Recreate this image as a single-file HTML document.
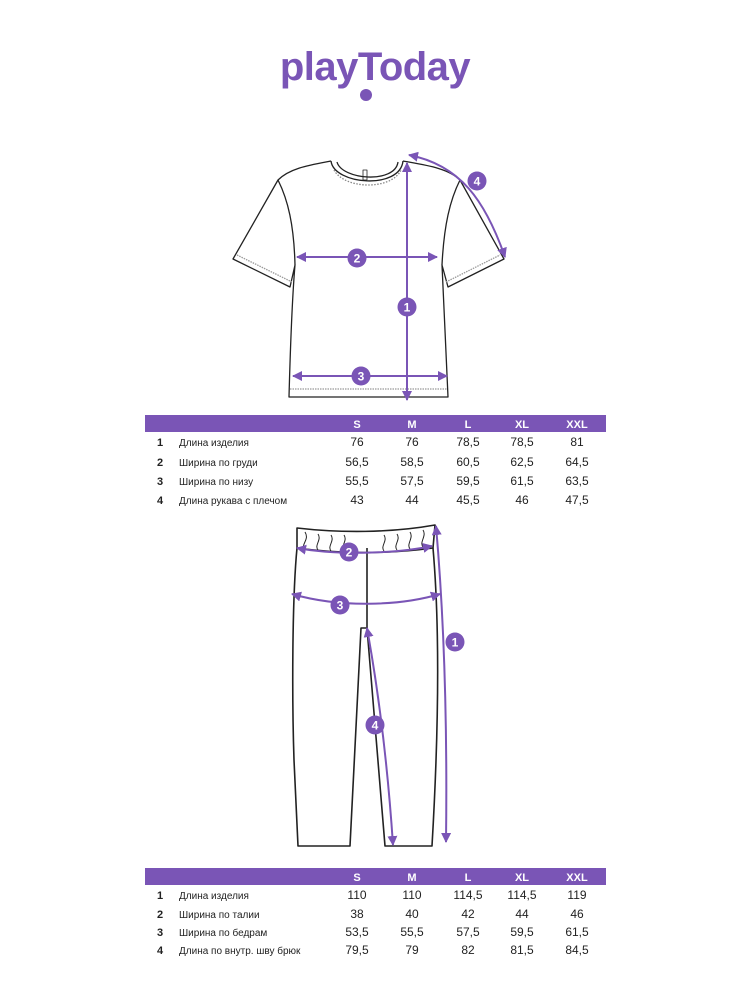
<!DOCTYPE html>
<html><head><meta charset="utf-8"><style>
html,body{margin:0;padding:0;background:#fff}
svg{display:block}
text{font-family:"Liberation Sans","DejaVu Sans",sans-serif}
</style></head><body>
<svg width="750" height="1000" viewBox="0 0 750 1000" xmlns="http://www.w3.org/2000/svg">
<rect width="750" height="1000" fill="#fff"/>
<defs>
<marker id="ah" viewBox="0 0 10 10" refX="9" refY="5" markerWidth="5" markerHeight="5" orient="auto-start-reverse"><path d="M0,0 L10,5 L0,10 z" fill="#7a55b6"/></marker>
</defs>
<!-- logo -->
<text x="375" y="80" text-anchor="middle" font-size="40" font-weight="bold" fill="#7a55b6" letter-spacing="-0.5">playToday</text>
<circle cx="366" cy="95" r="6" fill="#7a55b6"/>

<!-- T-shirt -->
<g fill="none" stroke="#222" stroke-width="1.3" stroke-linejoin="round">
<path d="M331,161 C334,185 400,190 403,161"/>
<path d="M337,162 C342,180 395,184 398,162"/>
<path d="M334,170 C345,190 392,190 401,170" stroke="#888" stroke-dasharray="1.5,1.5"/>
<path d="M331,161 C310,165 290,168 278,180 L233,259 L290,287 L295,265 C292,300 290,360 289,397 L448,397 C446,360 444,300 442,265 L448,287 L504,259 L460,180 C448,168 425,165 403,161"/>
<path d="M278,180 C288,200 294,225 295,265"/>
<path d="M460,180 C450,200 444,225 442,265"/>
<path d="M237,255 L292,282 M446,282 L500,255" stroke="#999" stroke-dasharray="1.5,1"/>
<path d="M290,389 L447,389" stroke="#999" stroke-dasharray="1.5,1"/>
<rect x="363" y="170" width="4" height="10" stroke-width="0.8"/>
</g>
<g stroke="#7a55b6" stroke-width="2" fill="none">
<line x1="407" y1="163" x2="407" y2="400" marker-start="url(#ah)" marker-end="url(#ah)"/>
<line x1="297" y1="257" x2="437" y2="257" marker-start="url(#ah)" marker-end="url(#ah)"/>
<line x1="293" y1="376" x2="447" y2="376" marker-start="url(#ah)" marker-end="url(#ah)"/>
<path d="M409,155 C460,165 485,200 505,257" marker-start="url(#ah)" marker-end="url(#ah)"/>
</g>
<g fill="#7a55b6" font-size="12" font-weight="bold" text-anchor="middle">
<circle cx="407" cy="307" r="9.5"/><text x="407" y="311.5" fill="#fff">1</text>
<circle cx="357" cy="258" r="9.5"/><text x="357" y="262.5" fill="#fff">2</text>
<circle cx="361" cy="376" r="9.5"/><text x="361" y="380.5" fill="#fff">3</text>
<circle cx="477" cy="181" r="9.5"/><text x="477" y="185.5" fill="#fff">4</text>
</g>

<!-- Table 1 -->
<rect x="145" y="415" width="461" height="17" fill="#7a55b6"/>
<g font-size="11" font-weight="bold" fill="#fff" text-anchor="middle">
<text x="357" y="428">S</text><text x="412" y="428">M</text><text x="468" y="428">L</text><text x="522" y="428">XL</text><text x="577" y="428">XXL</text>
</g>
<g font-size="10" fill="#222">
<g font-weight="bold" font-size="11"><text x="157" y="446">1</text><text x="157" y="466">2</text><text x="157" y="485">3</text><text x="157" y="504">4</text></g>
<text x="179" y="446">Длина изделия</text>
<text x="179" y="466">Ширина по груди</text>
<text x="179" y="485">Ширина по низу</text>
<text x="179" y="504">Длина рукава с плечом</text>
</g>
<g font-size="12" fill="#222" text-anchor="middle">
<text x="357" y="446">76</text><text x="412" y="446">76</text><text x="468" y="446">78,5</text><text x="522" y="446">78,5</text><text x="577" y="446">81</text>
<text x="357" y="466">56,5</text><text x="412" y="466">58,5</text><text x="468" y="466">60,5</text><text x="522" y="466">62,5</text><text x="577" y="466">64,5</text>
<text x="357" y="485">55,5</text><text x="412" y="485">57,5</text><text x="468" y="485">59,5</text><text x="522" y="485">61,5</text><text x="577" y="485">63,5</text>
<text x="357" y="504">43</text><text x="412" y="504">44</text><text x="468" y="504">45,5</text><text x="522" y="504">46</text><text x="577" y="504">47,5</text>
</g>

<!-- Pants -->
<g fill="none" stroke="#222" stroke-width="1.6" stroke-linejoin="round">
<path d="M297,528 C340,533 390,533 435,525 L433,548 C390,554 340,554 297,548 Z"/>
<path d="M297,548 C292,600 292,700 294,760 L298,846 L350,846 L361,628 L367,628 L385,846 L432,846 C437,760 441,640 433,548"/>
<path d="M367,548 L367,628"/>
<path d="M305,532 C310,540 300,545 305,548 M318,534 C322,540 314,545 318,550 M331,535 C335,541 327,546 331,551 M344,535 C348,541 340,546 344,551 M384,535 C388,541 380,546 384,551 M397,534 C401,540 393,545 397,550 M410,532 C414,538 406,544 410,549 M423,530 C427,536 419,542 423,547" stroke-width="1"/>
</g>
<g stroke="#7a55b6" stroke-width="2" fill="none">
<path d="M297,548 C340,556 400,553 432,546" marker-start="url(#ah)" marker-end="url(#ah)"/>
<path d="M292,594 C340,608 400,606 440,594" marker-start="url(#ah)" marker-end="url(#ah)"/>
<path d="M436,526 C446,640 447,760 446,842" marker-start="url(#ah)" marker-end="url(#ah)"/>
<path d="M367,628 C380,700 388,770 393,845" marker-start="url(#ah)" marker-end="url(#ah)"/>
</g>
<g fill="#7a55b6" font-size="12" font-weight="bold" text-anchor="middle">
<circle cx="455" cy="642" r="9.5"/><text x="455" y="646.5" fill="#fff">1</text>
<circle cx="349" cy="552" r="9.5"/><text x="349" y="556.5" fill="#fff">2</text>
<circle cx="340" cy="605" r="9.5"/><text x="340" y="609.5" fill="#fff">3</text>
<circle cx="375" cy="725" r="9.5"/><text x="375" y="729.5" fill="#fff">4</text>
</g>

<!-- Table 2 -->
<rect x="145" y="868" width="461" height="17" fill="#7a55b6"/>
<g font-size="11" font-weight="bold" fill="#fff" text-anchor="middle">
<text x="357" y="881">S</text><text x="412" y="881">M</text><text x="468" y="881">L</text><text x="522" y="881">XL</text><text x="577" y="881">XXL</text>
</g>
<g font-size="10" fill="#222">
<g font-weight="bold" font-size="11"><text x="157" y="899">1</text><text x="157" y="918">2</text><text x="157" y="936">3</text><text x="157" y="954">4</text></g>
<text x="179" y="899">Длина изделия</text>
<text x="179" y="918">Ширина по талии</text>
<text x="179" y="936">Ширина по бедрам</text>
<text x="179" y="954">Длина по внутр. шву брюк</text>
</g>
<g font-size="12" fill="#222" text-anchor="middle">
<text x="357" y="899">110</text><text x="412" y="899">110</text><text x="468" y="899">114,5</text><text x="522" y="899">114,5</text><text x="577" y="899">119</text>
<text x="357" y="918">38</text><text x="412" y="918">40</text><text x="468" y="918">42</text><text x="522" y="918">44</text><text x="577" y="918">46</text>
<text x="357" y="936">53,5</text><text x="412" y="936">55,5</text><text x="468" y="936">57,5</text><text x="522" y="936">59,5</text><text x="577" y="936">61,5</text>
<text x="357" y="954">79,5</text><text x="412" y="954">79</text><text x="468" y="954">82</text><text x="522" y="954">81,5</text><text x="577" y="954">84,5</text>
</g>
</svg>
</body></html>
